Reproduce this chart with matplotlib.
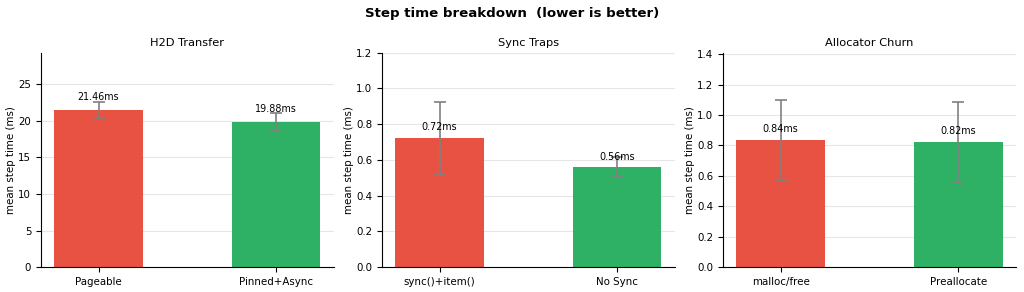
import matplotlib
matplotlib.use("Agg")
import matplotlib.pyplot as plt

titles = ["H2D Transfer", "Sync Traps", "Allocator Churn"]
categories = [["Pageable", "Pinned+Async"], ["sync()+item()", "No Sync"], ["malloc/free", "Preallocate"]]
means = [[21.46, 19.88], [0.72, 0.56], [0.836, 0.82]]
errors = [[1.1, 1.15], [0.205, 0.058], [0.26, 0.265]]
ylims = [29.3, 1.2, 1.41]
colors = ["#e74c3c", "#27ae60"]

plt.rcParams["font.family"] = "DejaVu Sans"
fig, axes = plt.subplots(1, 3, figsize=(10.24, 2.92), dpi=100)
fig.suptitle("Step time breakdown  (lower is better)", fontsize=9.6, fontweight="bold", y=0.975)

for ax, t, cats, m, e, yl in zip(axes, titles, categories, means, errors, ylims):
    x = list(range(len(cats)))
    ax.bar(x, m, width=0.5, color=colors, alpha=0.97, zorder=2)
    ax.errorbar(x, m, yerr=e, fmt="none", ecolor="gray", capsize=4, elinewidth=1.2, capthick=1.2, zorder=3)
    for xi, v in zip(x, m):
        ax.text(xi, v * 1.05, f"{v:.2f}ms", ha="center", va="bottom", fontsize=6.9, zorder=4)
    ax.set_xticks(x)
    ax.set_xticklabels(cats, fontsize=7.4)
    ax.tick_params(axis="y", labelsize=7.4)
    ax.set_ylim(0, yl)
    ax.set_ylabel("mean step time (ms)", fontsize=7.4, labelpad=1.5)
    ax.set_title(t, fontsize=8.2, pad=5)
    ax.grid(axis="y", color="#e6e6e6", linewidth=0.8, zorder=0)
    ax.set_axisbelow(True)
    ax.spines["top"].set_visible(False)
    ax.spines["right"].set_visible(False)

fig.subplots_adjust(left=0.04, right=0.992, bottom=0.085, top=0.82, wspace=0.165)
fig.savefig("out.png", dpi=100)
